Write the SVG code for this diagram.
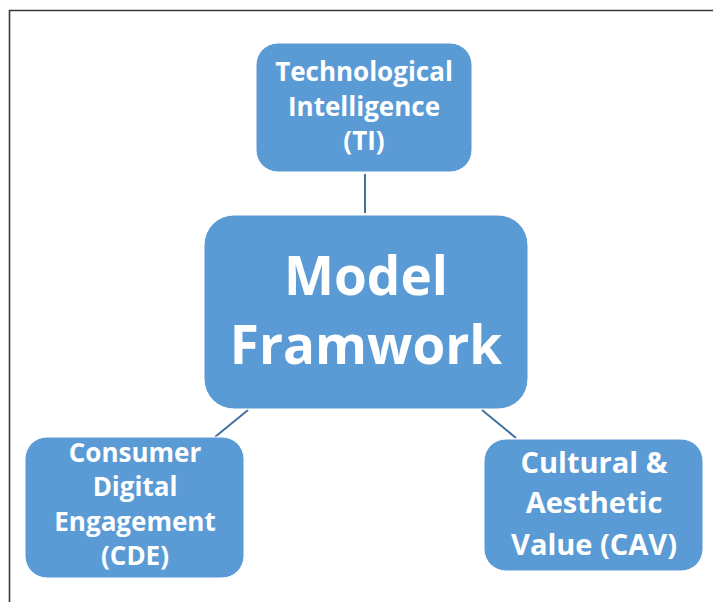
<svg xmlns="http://www.w3.org/2000/svg" width="713" height="602" viewBox="0 0 713 602">
  <style>
    .box { fill: #5B9BD5; stroke: #FFFFFF; stroke-width: 1; }
    .lbl { font-family: "Open Sans", "Liberation Sans", sans-serif; font-weight: 700; fill: #FFFFFF; text-anchor: middle; }
    .link { stroke: #41719C; stroke-width: 2; fill: none; }
    .frame { stroke: #3A3A3A; stroke-width: 1.6; fill: none; }
  </style>
  <rect width="713" height="602" fill="#FFFFFF"/>
  <!-- page frame -->
  <path class="frame" d="M9.5 602 V10.5 H713"/>

  <g id="connectors">
    <line class="link" x1="365" y1="174" x2="365" y2="213"/>
    <line class="link" x1="248" y1="410" x2="215" y2="437"/>
    <line class="link" x1="482" y1="410" x2="516" y2="438"/>
  </g>

  <g id="node-ti">
    <rect class="box" x="256" y="43" width="216" height="129" rx="22"/>
    <text class="lbl" font-size="26" x="364" y="81">Technological</text>
    <text class="lbl" font-size="26" x="364" y="116">Intelligence</text>
    <text class="lbl" font-size="26" x="364" y="150">(TI)</text>
  </g>

  <g id="node-model">
    <rect class="box" x="204" y="215" width="324" height="194" rx="30"/>
    <text class="lbl" font-size="53" x="366" y="295">Model</text>
    <text class="lbl" font-size="53" x="366" y="364">Framwork</text>
  </g>

  <g id="node-cde">
    <rect class="box" x="25" y="437" width="219" height="141" rx="22"/>
    <text class="lbl" font-size="26" x="135" y="462">Consumer</text>
    <text class="lbl" font-size="26" x="135" y="496">Digital</text>
    <text class="lbl" font-size="26" x="135" y="531">Engagement</text>
    <text class="lbl" font-size="26" x="135" y="565">(CDE)</text>
  </g>

  <g id="node-cav">
    <rect class="box" x="484" y="439" width="219" height="132" rx="22"/>
    <text class="lbl" font-size="29" x="594" y="473">Cultural &amp;</text>
    <text class="lbl" font-size="29" x="594" y="513">Aesthetic</text>
    <text class="lbl" font-size="29" x="594" y="555">Value (CAV)</text>
  </g>
</svg>
